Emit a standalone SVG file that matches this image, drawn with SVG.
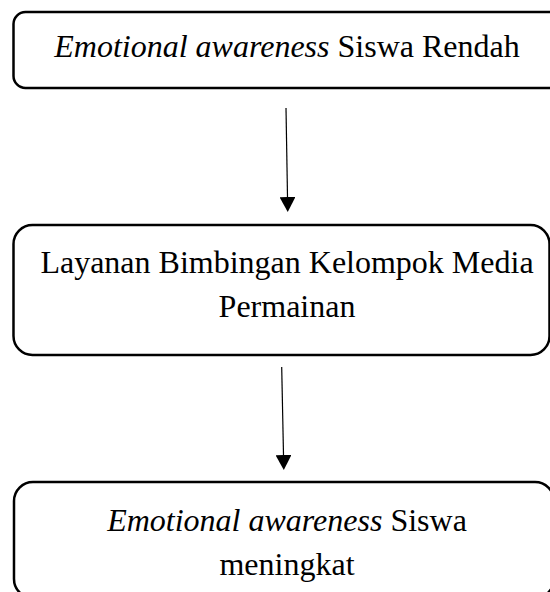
<svg xmlns="http://www.w3.org/2000/svg" width="550" height="592" viewBox="0 0 550 592">
  <style>
    .box { fill: #ffffff; stroke: #000000; stroke-width: 2.5; }
    .lbl { font-family: "Liberation Serif", "Times New Roman", serif; font-size: 32px; fill: #000000; text-anchor: middle; }
    .it { font-style: italic; }
    .conn { stroke: #000000; stroke-width: 1.2; fill: none; marker-end: url(#arrow); }
  </style>
  <defs>
    <marker id="arrow" viewBox="0 0 15 16" refX="0" refY="8" markerWidth="15" markerHeight="16" markerUnits="userSpaceOnUse" orient="auto">
      <path d="M0,0 L15,8 L0,16 Z" fill="#000000"/>
    </marker>
  </defs>
  <rect width="550" height="592" fill="#ffffff"/>
  <g id="node-rendah">
    <rect class="box" x="13.5" y="12" width="560" height="76" rx="12" ry="12"/>
    <text class="lbl" x="287" y="57"><tspan class="it">Emotional awareness</tspan> Siswa Rendah</text>
  </g>
  <g id="node-layanan">
    <rect class="box" x="13.5" y="225" width="536" height="130" rx="19" ry="19"/>
    <text class="lbl" x="287" y="273">Layanan Bimbingan Kelompok Media</text>
    <text class="lbl" x="287" y="317">Permainan</text>
  </g>
  <g id="node-meningkat">
    <rect class="box" x="14" y="482" width="540" height="116" rx="19" ry="19"/>
    <text class="lbl" x="287" y="531"><tspan class="it">Emotional awareness</tspan> Siswa</text>
    <text class="lbl" x="287" y="575">meningkat</text>
  </g>
  <g id="connectors">
    <line class="conn" x1="286" y1="108" x2="287.5" y2="197"/>
    <line class="conn" x1="281.7" y1="367" x2="283.5" y2="455"/>
  </g>
</svg>
